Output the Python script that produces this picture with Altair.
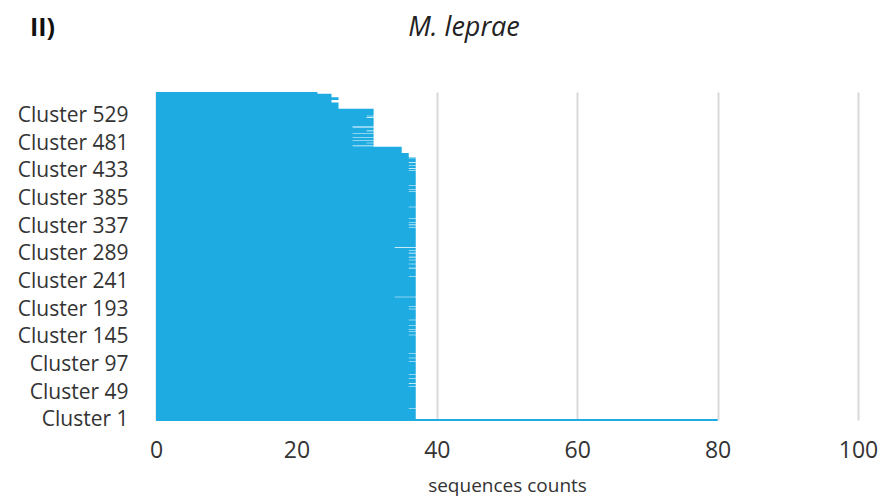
import altair as alt
import pandas as pd

# Sequence counts per cluster, read bottom (Cluster 1) to top, as runs of equal values
run_values = [80, 37, 36, 37, 36, 37, 36, 37, 36, 37, 36, 37, 36, 37, 36, 37, 36, 37,
              36, 37, 36, 37, 36, 37, 36, 37, 36, 37, 36, 37, 36, 37, 34, 37, 36, 37,
              36, 37, 36, 37, 36, 37, 36, 37, 36, 37, 36, 37, 34, 37, 36, 37, 36, 37,
              36, 37, 36, 37, 36, 37, 36, 37, 36, 37, 36, 37, 36, 37, 36, 37, 36, 37,
              36, 37, 36, 37, 36, 35, 31, 28, 31, 30, 31, 28, 31, 28, 31, 28, 31, 30,
              31, 28, 31, 28, 31, 30, 31, 30, 31, 26, 25, 26, 25, 23]
run_lengths = [1, 18, 1, 38, 1, 4, 1, 8, 1, 5, 1, 22, 1, 5, 1, 7, 1, 31,
               1, 5, 1, 3, 1, 6, 1, 8, 1, 18, 1, 3, 1, 16, 1, 35, 1, 13,
               1, 6, 1, 6, 1, 4, 1, 6, 1, 4, 1, 4, 1, 34, 1, 3, 1, 3,
               1, 6, 1, 19, 1, 26, 1, 2, 1, 6, 1, 25, 1, 3, 1, 4, 1, 4,
               1, 7, 1, 1, 7, 11, 1, 1, 4, 1, 3, 1, 5, 1, 6, 1, 3, 1,
               5, 1, 1, 1, 14, 1, 2, 1, 12, 11, 4, 5, 6, 3]

tick_clusters = [1, 49, 97, 145, 193, 241, 289, 337, 385, 433, 481, 529]
x_ticks = [0, 20, 40, 60, 80, 100]

counts = []
for v, n in zip(run_values, run_lengths):
    counts.extend([v] * n)
n_clusters = len(counts)

rows = []
eps = 0.001
for i, c in enumerate(counts, start=1):
    rows.append({"cluster": i, "seqs": c, "edge": i - 0.5 + eps, "lo": i - 0.5})
    rows.append({"cluster": i, "seqs": c, "edge": i + 0.5 - eps, "lo": i - 0.5})
df = pd.DataFrame(rows)

FONT = "Open Sans"
BLUE = "#1DABE2"

yscale = alt.Scale(domain=[0.5, n_clusters + 0.5], zero=False, nice=False)
xscale = alt.Scale(domain=[0, 100], nice=False)

xaxis = alt.Axis(values=x_ticks, title="sequences counts", grid=True,
                 gridColor="#D9D9D9", gridWidth=2, ticks=False, domain=False,
                 labelFlush=False, labelOverlap=False, labelBound=False,
                 labelFontSize=23, labelFont=FONT, labelColor="#333333",
                 labelPadding=19, titleFont=FONT, titleFontSize=19,
                 titleFontWeight="normal", titleColor="#333333", titlePadding=14)
yaxis = alt.Axis(values=tick_clusters, labelExpr="'Cluster ' + datum.value",
                 title=None, grid=False, ticks=False, domain=False,
                 labelOverlap=False, labelBound=False, labelFlush=False,
                 labelFontSize=21, labelFont=FONT, labelColor="#333333",
                 labelPadding=28)

area = alt.Chart(df).mark_area(orient="horizontal", color=BLUE, opacity=1).encode(
    x=alt.X("seqs:Q", scale=xscale, axis=xaxis),
    x2=alt.datum(0),
    y=alt.Y("edge:Q", scale=yscale, axis=yaxis),
)

first = alt.Chart(df[df["cluster"] == 1].head(1)).mark_rule(color=BLUE, strokeWidth=2).encode(
    x=alt.X("seqs:Q", scale=xscale, axis=xaxis),
    x2=alt.datum(0),
    y=alt.Y("lo:Q", scale=yscale, axis=yaxis),
)

panel = alt.Chart(pd.DataFrame({"t": ["II)"]})).mark_text(
    font=FONT, fontSize=25, fontWeight="bold", align="left", baseline="alphabetic", color="#111111"
).encode(text="t:N", x=alt.value(-126), y=alt.value(-56))

title = alt.Chart(pd.DataFrame({"t": ["M. leprae"]})).mark_text(
    font=FONT, fontSize=27, fontStyle="italic", align="center", baseline="alphabetic",
    color="#222222"
).encode(text="t:N", x=alt.value(308), y=alt.value(-56))

chart = alt.layer(area, first, panel, title).properties(
    width=702,
    height=328,
    autosize=alt.AutoSizeParams(type="none"),
    padding={"left": 148, "top": 84, "right": 20, "bottom": 76},
).configure_view(stroke=None).configure_axisY(labelOverlap=False)

chart.save("out.html", embed_options={"renderer": "svg", "actions": False})
